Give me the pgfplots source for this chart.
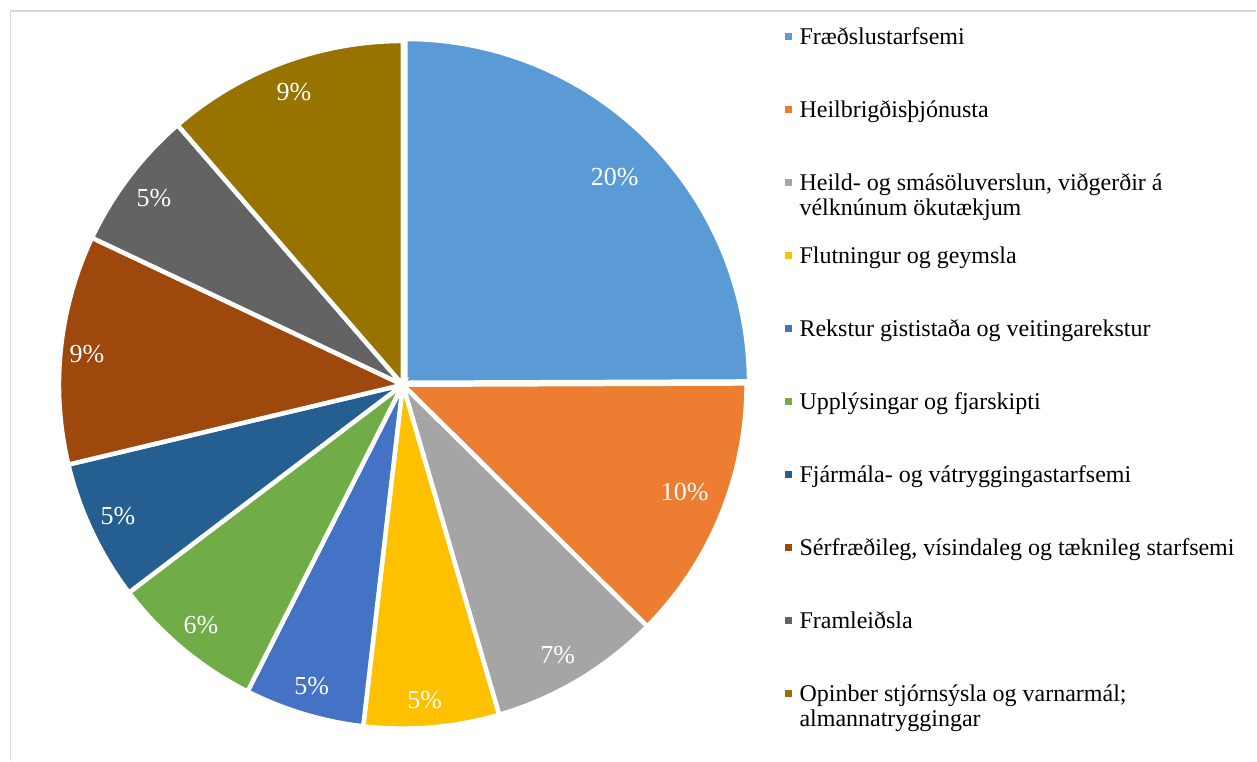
\documentclass[border=0pt]{standalone}
\usepackage{pgfplots}
\usepackage{pgfplotstable}
\pgfplotsset{compat=1.18}
\usepackage{fontspec}
\setmainfont{Liberation Serif}

\definecolor{c0}{HTML}{5B9BD5}
\definecolor{c1}{HTML}{ED7D31}
\definecolor{c2}{HTML}{A5A5A5}
\definecolor{c3}{HTML}{FFC000}
\definecolor{c4}{HTML}{4472C4}
\definecolor{c5}{HTML}{70AD47}
\definecolor{c6}{HTML}{255E91}
\definecolor{c7}{HTML}{9E480E}
\definecolor{c8}{HTML}{636363}
\definecolor{c9}{HTML}{997300}
\definecolor{frame}{HTML}{D9D9D9}

% share of each sector (percent of all employed)
\pgfplotstableread{
value
20.4
10.2
6.6
5.2
4.6
5.9
5.4
8.8
5.4
9.3
}\piedata

% cumulative angles, clockwise from 12 o'clock
\def\total{0}%
\pgfplotsforeachungrouped \i in {0,...,9}{%
  \pgfplotstablegetelem{\i}{value}\of\piedata
  \pgfmathsetmacro\total{\total+\pgfplotsretval}%
}%
\def\cum{0}%
\pgfplotsforeachungrouped \i in {0,...,9}{%
  \pgfplotstablegetelem{\i}{value}\of\piedata
  \pgfmathsetmacro\a{90-(\cum/\total)*360}%
  \pgfmathsetmacro\cum{\cum+\pgfplotsretval}%
  \pgfmathsetmacro\b{90-(\cum/\total)*360}%
  \expandafter\xdef\csname sa\i\endcsname{\a}%
  \expandafter\xdef\csname sb\i\endcsname{\b}%
}%

% \slice{index}{colour}{legend}{centre x}{centre y}
\newcommand\slice[5]{%
  \addplot[fill=#2, draw=white, line width=2.25pt,
    domain=\csname sb#1\endcsname:\csname sa#1\endcsname,
    samples=120, variable=\t]
    ({#4+344*cos(\t)},{#5+344*sin(\t)}) -- (#4,#5) -- cycle;
  \addlegendentry{#3}%
}
\newcommand\twoline[2]{\vtop{\hbox{#1}\hbox{#2}}}

\begin{document}
\begin{tikzpicture}
\begin{axis}[
  scale only axis,
  width=628.5pt, height=380.5pt,
  xmin=0, xmax=1257, ymin=0, ymax=761,
  hide axis, clip=false,
  legend image code/.code={\fill[#1, draw=none] (0pt,2.5pt) rectangle (3.5pt,6pt);},
  legend style={
    at={(axis cs:785,732)}, anchor=north west,
    draw=none, fill=none, inner sep=0pt, outer sep=0pt,
    font=\fontsize{12}{12.5}\selectfont,
    row sep=25.5pt, column sep=4pt,
    cells={anchor=base west},
    nodes={inner sep=0pt, text height=8pt, text depth=3pt},
  },
]
\path (0,0) rectangle (1257,761);
\draw[frame, line width=0.75pt] (10.5,0) -- (10.5,750) -- (1257,750);

\slice{0}{c0}{Fræðslustarfsemi}{405.5}{378}
\slice{1}{c1}{Heilbrigðisþjónusta}{403}{376}
\slice{2}{c2}{\twoline{Heild- og smásöluverslun, viðgerðir á}{vélknúnum ökutækjum}}{403}{376}
\slice{3}{c3}{Flutningur og geymsla}{403}{376}
\slice{4}{c4}{Rekstur gististaða og veitingarekstur}{403}{376}
\slice{5}{c5}{Upplýsingar og fjarskipti}{403}{376}
\slice{6}{c6}{Fjármála- og vátryggingastarfsemi}{403}{376}
\slice{7}{c7}{Sérfræðileg, vísindaleg og tæknileg starfsemi}{403}{376}
\slice{8}{c8}{Framleiðsla}{403}{376}
\slice{9}{c9}{\twoline{Opinber stjórnsýsla og varnarmál;}{almannatryggingar}}{403}{376}

\begin{scope}[every node/.style={text=white, font=\fontsize{13}{15}\selectfont}]
\node at (615,584) {20\%};
\node at (685,269) {10\%};
\node at (558,106) {7\%};
\node at (425,61) {5\%};
\node at (312,75) {5\%};
\node at (201,136) {6\%};
\node at (118,245) {5\%};
\node at (87,407) {9\%};
\node at (154,563) {5\%};
\node at (294,669) {9\%};
\end{scope}
\end{axis}
\end{tikzpicture}
\end{document}
